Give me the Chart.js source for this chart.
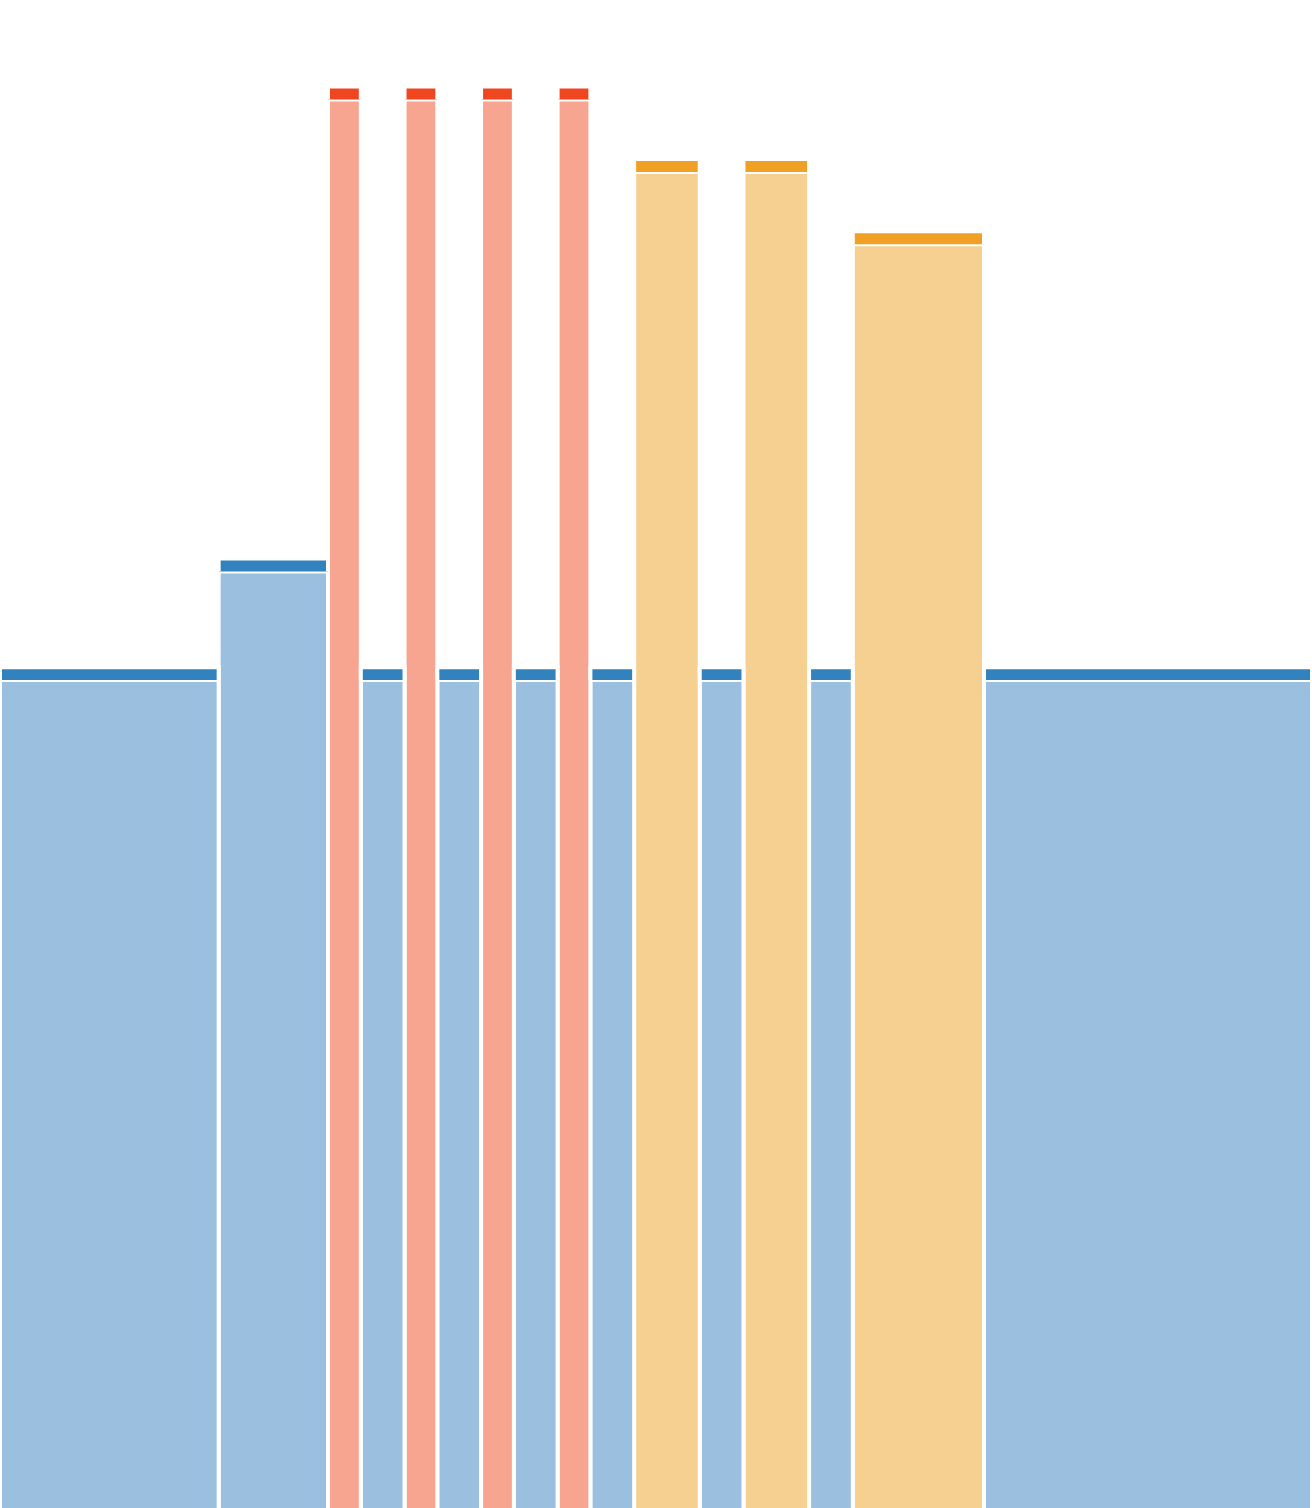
<!DOCTYPE html>
<html>
<head>
<meta charset="utf-8">
<title>Bars</title>
<script src="https://cdn.jsdelivr.net/npm/chart.js@4.4.1/dist/chart.umd.min.js"></script>
<style>
    html, body { margin: 0; padding: 0; background: #fff; }
    #wrap { width: 1312px; height: 1508px; position: relative; }
</style>
</head>
<body>
<div id="wrap"><canvas id="chBars"></canvas></div>
<script>
// bar widths (x units), heights and category of each bar, left to right
var widths = [20, 10, 3, 4, 3, 4, 3, 4, 3, 4, 6, 4, 6, 4, 12, 30];
var heights = [54.9, 62.1, 93.4, 54.9, 93.4, 54.9, 93.4, 54.9, 93.4, 54.9, 88.6, 54.9, 88.6, 54.9, 83.8, 54.9];
var groups = ['blue', 'blue', 'red', 'blue', 'red', 'blue', 'red', 'blue', 'red', 'blue', 'yellow', 'blue', 'yellow', 'blue', 'yellow', 'blue'];
var capSize = 0.86;

document.addEventListener("DOMContentLoaded", function () {
    var colors = {
        blue:   { light: '#9abfdf', dark: '#3182bd' },
        red:    { light: '#f7a590', dark: '#f0461f' },
        yellow: { light: '#f6d091', dark: '#f0a024' }
    };

    var fills = [];
    var caps = [];
    var x0 = 0;
    widths.forEach(function (w, i) {
        var x1 = x0 + w;
        var h = heights[i];
        var c = colors[groups[i]];
        // light body of the bar, filled down to zero
        fills.push({
            data: [{x: x0, y: 0}, {x: x0, y: h}, {x: x1, y: h}, {x: x1, y: 0}],
            showLine: true,
            fill: 'origin',
            backgroundColor: c.light,
            borderColor: '#ffffff',
            borderWidth: 4,
            pointRadius: 0,
            order: 1
        });
        // darker cap sitting on top of the bar
        caps.push({
            data: [{x: x0, y: h}, {x: x0, y: h + capSize}, {x: x1, y: h + capSize}, {x: x1, y: h}],
            showLine: true,
            fill: {value: h},
            backgroundColor: c.dark,
            borderColor: '#ffffff',
            borderWidth: 4,
            pointRadius: 0,
            order: 0
        });
        x0 = x1;
    });

    var total = widths.reduce(function (a, b) { return a + b; }, 0);

    new Chart(document.getElementById("chBars").getContext('2d'), {
        type: 'scatter',
        data: { datasets: fills.concat(caps) },
        options: {
            responsive: true,
            maintainAspectRatio: false,
            animation: false,
            events: [],
            layout: { padding: 0 },
            elements: { line: { tension: 0, borderJoinStyle: 'miter', borderCapStyle: 'butt' } },
            plugins: {
                legend: { display: false },
                tooltip: { enabled: false }
            },
            scales: {
                x: { type: 'linear', min: 0, max: total, display: false },
                y: { type: 'linear', min: 0, max: 100, display: false }
            }
        }
    });
});
</script>
</body>
</html>
